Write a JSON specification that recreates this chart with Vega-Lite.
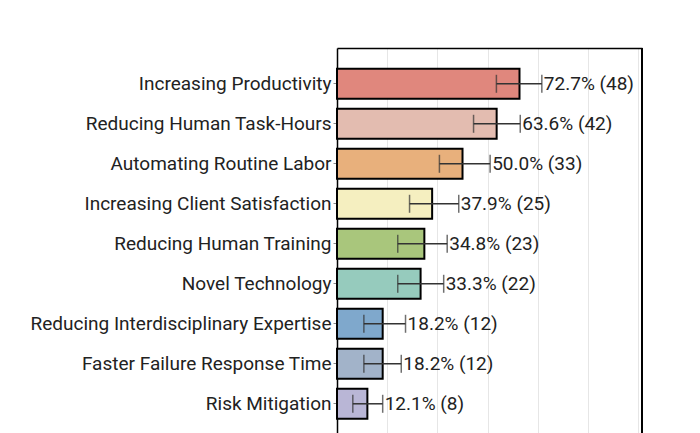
{
  "$schema": "https://vega.github.io/schema/vega-lite/v6.json",
  "width": 305,
  "height": 385,
  "autosize": "none",
  "padding": {"left": 337, "top": 48, "right": 58, "bottom": 0},
  "background": "white",
  "config": {"font": "Roboto", "view": {"stroke": null}},
  "data": {
    "values": [
      {"cat": "Increasing Productivity", "pct": 72.7, "lo": 63.5, "hi": 81.6, "label": "72.7% (48)"},
      {"cat": "Reducing Human Task-Hours", "pct": 63.6, "lo": 54.4, "hi": 73.0, "label": "63.6% (42)"},
      {"cat": "Automating Routine Labor", "pct": 50.0, "lo": 40.8, "hi": 61.0, "label": "50.0% (33)"},
      {"cat": "Increasing Client Satisfaction", "pct": 37.9, "lo": 28.9, "hi": 48.5, "label": "37.9% (25)"},
      {"cat": "Reducing Human Training", "pct": 34.8, "lo": 24.2, "hi": 43.9, "label": "34.8% (23)"},
      {"cat": "Novel Technology", "pct": 33.3, "lo": 24.2, "hi": 42.5, "label": "33.3% (22)"},
      {"cat": "Reducing Interdisciplinary Expertise", "pct": 18.2, "lo": 10.7, "hi": 27.3, "label": "18.2% (12)"},
      {"cat": "Faster Failure Response Time", "pct": 18.2, "lo": 10.7, "hi": 25.6, "label": "18.2% (12)"},
      {"cat": "Risk Mitigation", "pct": 12.1, "lo": 6.3, "hi": 18.2, "label": "12.1% (8)"}
    ]
  },
  "layer": [
    {
      "mark": {"type": "bar", "stroke": "black", "strokeWidth": 2},
      "encoding": {
        "y": {
          "field": "cat",
          "type": "nominal",
          "sort": null,
          "scale": {"paddingInner": 0.25, "paddingOuter": 0.4375, "align": 0.594},
          "axis": {
            "title": null,
            "labelFontSize": 19,
            "labelColor": "#222222",
            "labelLimit": 400,
            "labelPadding": 2,
            "tickSize": 4,
            "tickColor": "#888888",
            "domainColor": "black",
            "domainWidth": 1.5
          }
        },
        "x": {
          "field": "pct",
          "type": "quantitative",
          "title": null,
          "scale": {"domain": [0, 121.5], "nice": false},
          "axis": {
            "orient": "top",
            "values": [20, 40, 60, 80, 100, 120],
            "labels": false,
            "ticks": false,
            "title": null,
            "domainColor": "black",
            "domainWidth": 1.5,
            "gridColor": "#e6e6e6",
            "gridWidth": 1
          }
        },
        "color": {
          "field": "cat",
          "type": "nominal",
          "legend": null,
          "scale": {
            "domain": ["Increasing Productivity", "Reducing Human Task-Hours", "Automating Routine Labor", "Increasing Client Satisfaction", "Reducing Human Training", "Novel Technology", "Reducing Interdisciplinary Expertise", "Faster Failure Response Time", "Risk Mitigation"],
            "range": ["#e0877d", "#e3bcb0", "#e8b07c", "#f5efc0", "#a9c67c", "#96cbbd", "#7fa8cc", "#a2b3c9", "#b9b6d6"]
          }
        }
      }
    },
    {
      "mark": {"type": "rule", "color": "#333333", "strokeWidth": 1.5},
      "encoding": {
        "y": {"field": "cat", "type": "nominal", "sort": null},
        "x": {"field": "lo", "type": "quantitative", "title": null},
        "x2": {"field": "hi"}
      }
    },
    {
      "mark": {"type": "tick", "color": "#333333", "thickness": 1.5, "size": 18},
      "encoding": {
        "y": {"field": "cat", "type": "nominal", "sort": null},
        "x": {"field": "lo", "type": "quantitative", "title": null}
      }
    },
    {
      "mark": {"type": "tick", "color": "#333333", "thickness": 1.5, "size": 18},
      "encoding": {
        "y": {"field": "cat", "type": "nominal", "sort": null},
        "x": {"field": "hi", "type": "quantitative", "title": null}
      }
    },
    {
      "mark": {"type": "text", "align": "left", "baseline": "middle", "dx": 2, "fontSize": 19, "color": "#222222"},
      "encoding": {
        "y": {"field": "cat", "type": "nominal", "sort": null},
        "x": {"field": "hi", "type": "quantitative", "title": null},
        "text": {"field": "label"}
      }
    },
    {
      "mark": {"type": "rule", "color": "black", "strokeWidth": 1.5},
      "encoding": {"x": {"datum": 121.5}}
    }
  ]
}
